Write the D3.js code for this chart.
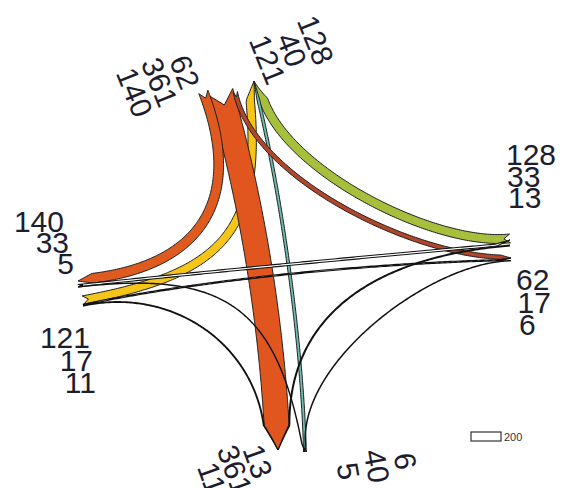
<!DOCTYPE html>
<html>
<head>
<meta charset="utf-8">
<script src="https://cdn.jsdelivr.net/npm/d3@7"></script>
<style>
	body { margin: 0; background: #ffffff; }
	svg { display: block; }
	.lbl { font-family: "Liberation Sans", Arial, sans-serif; font-size: 30px; fill: #1d1d30; }
	.legend { font-family: "Liberation Sans", Arial, sans-serif; font-size: 11px; fill: #333333; }
</style>
</head>
<body>
<svg id="flows" width="566" height="488"></svg>
<script>
'use strict'

// nodes and the three numbers printed next to each of them
var nodes = ['NW', 'N', 'W1', 'W2', 'E1', 'E2', 'S1', 'S2'];
var nodeLabels = [
	[62, 361, 140],
	[128, 40, 121],
	[140, 33, 5],
	[121, 17, 11],
	[128, 33, 13],
	[62, 17, 6],
	[13, 361, 11],
	[6, 40, 5]
];

// flows between nodes
var flowFrom  = ['NW', 'NW', 'NW', 'E1', 'W2', 'S2', 'W1', 'W2', 'W2', 'E1', 'E2', 'W1'];
var flowTo    = ['S1', 'W1', 'E2', 'N',  'N',  'N',  'E1', 'E2', 'S1', 'S1', 'S2', 'S2'];
var flowValue = [361, 140, 62, 128, 121, 40, 33, 17, 11, 13, 6, 5];

var legendValue = 200;

// ---- layout (not data) ----
var center = [270, 265];
var nodePos = {
	NW: [218, 92], N: [254, 81],
	W1: [78, 281], W2: [83, 301],
	E1: [510, 240], E2: [511, 258],
	S1: [278, 450], S2: [305, 452]
};
var nodeAxis = {
	NW: [-1, 0], N: [-1, 0], W1: [0, 1], W2: [0, 1],
	E1: [0, 1], E2: [0, 1], S1: [-1, 0], S2: [-1, 0]
};
var flowFill = ['#e1551e', '#de5a1f', '#b2462a', '#a6bf3c', '#f5c518', '#6cbfb2',
	'#ffffff', '#ffffff', '#ffffff', '#ffffff', '#ffffff', '#ffffff'];
var flowBend = [0.33, 0.53, 0.28, 0.27, 0.54, 0.3, 0.3, 0.3, 0.42, 0.45, 0.3, 0.53];
// point the curve ends lean towards, when it is not the centre
var flowPull = [null, null, null, null, null, [300, 265], null, null, null, null, null, null];
var drawOrder = [4, 3, 5, 0, 1, 2, 6, 7, 8, 9, 10, 11];

var labelPos = {
	NW: { x: 175, y: 76,  rot: 68, anchor: 'middle', step: 27, shift: 0 },
	N:  { x: 306, y: 44,  rot: 68, anchor: 'middle', step: 26, shift: 0 },
	W1: { x: 64,  y: 232, rot: 0,  anchor: 'end',    step: 21, shift: 5 },
	W2: { x: 90,  y: 348, rot: 0,  anchor: 'end',    step: 22.5, shift: 3 },
	E1: { x: 506, y: 165, rot: 0,  anchor: 'start',  step: 21.5, shift: 1 },
	E2: { x: 516, y: 290, rot: 0,  anchor: 'start',  step: 22.5, shift: 1.5 },
	S1: { x: 248, y: 465, rot: 70, anchor: 'middle', step: 24.5, shift: 0 },
	S2: { x: 395, y: 463, rot: 80, anchor: 'middle', step: 29, shift: 0 }
};

var width = d3.scaleLinear().domain([0, d3.max(flowValue)]).range([0, 25]);

function members(node){
	var list = nodeLabels[nodes.indexOf(node)];
	var m = d3.range(flowValue.length).filter(function(j){ return flowFrom[j] === node || flowTo[j] === node; });
	m.sort(function(a, b){ return list.indexOf(flowValue[a]) - list.indexOf(flowValue[b]); });
	return m;
}

function nodeTotal(node){
	return d3.sum(members(node), function(j){ return width(flowValue[j]); });
}

function offsetAt(node, i){
	var pos = -nodeTotal(node) / 2;
	for(var j of members(node)){
		if(j === i) return pos + width(flowValue[j]) / 2;
		pos += width(flowValue[j]);
	}
	return 0;
}

function toward(p, q, L){
	var dx = q[0] - p[0], dy = q[1] - p[1], d = Math.hypot(dx, dy);
	return [p[0] + dx / d * L, p[1] + dy / d * L];
}

function bez(c, t){
	var u = 1 - t;
	var a = u*u*u, b = 3*u*u*t, d = 3*u*t*t, e = t*t*t;
	return [a*c[0][0] + b*c[1][0] + d*c[2][0] + e*c[3][0],
		a*c[0][1] + b*c[1][1] + d*c[2][1] + e*c[3][1]];
}

function bandPath(i){
	var a = flowFrom[i], b = flowTo[i];
	var w = width(flowValue[i]), h = w / 2;
	var oa = offsetAt(a, i), ob = offsetAt(b, i);
	var s = [nodePos[a][0] + nodeAxis[a][0]*oa, nodePos[a][1] + nodeAxis[a][1]*oa];
	var e = [nodePos[b][0] + nodeAxis[b][0]*ob, nodePos[b][1] + nodeAxis[b][1]*ob];
	var L = flowBend[i] * Math.hypot(e[0] - s[0], e[1] - s[1]);
	var pull = flowPull[i] || center;
	var ctrl = [s, toward(s, pull, L), toward(e, pull, L), e];

	var N = 160, pts = [], len = [0];
	for(var k = 0; k <= N; k++){
		pts.push(bez(ctrl, k / N));
		if(k > 0) len.push(len[k-1] + Math.hypot(pts[k][0] - pts[k-1][0], pts[k][1] - pts[k-1][1]));
	}
	var S = len[N];
	var arrow = 6 + 0.7 * nodeTotal(b);
	var sh = [nodeAxis[b][0]*ob, nodeAxis[b][1]*ob];

	var mid = [], fs = [];
	for(k = 0; k <= N; k++){
		var f = Math.min(1, (S - len[k]) / arrow);
		fs.push(f);
		mid.push([pts[k][0] - (1 - f)*sh[0], pts[k][1] - (1 - f)*sh[1]]);
	}
	var left = [], right = [];
	for(k = 0; k <= N; k++){
		var p0 = mid[Math.max(0, k-1)], p1 = mid[Math.min(N, k+1)];
		var tx = p1[0] - p0[0], ty = p1[1] - p0[1], tl = Math.hypot(tx, ty) || 1;
		var nx = -ty / tl, ny = tx / tl;
		left.push([mid[k][0] + nx*h*fs[k], mid[k][1] + ny*h*fs[k]]);
		right.push([mid[k][0] - nx*h*fs[k], mid[k][1] - ny*h*fs[k]]);
	}
	var notch = 0.4 * w + 2, kn = 0;
	while(kn < N && len[kn] < notch) kn++;
	var poly = left.concat(right.reverse()).concat([mid[kn]]);
	return d3.line()(poly) + 'Z';
}

var svg = d3.select('#flows');

svg.append('rect').attr('width', 566).attr('height', 488).attr('fill', '#ffffff');

svg.append('g')
	.attr('class', 'bands')
	.selectAll('path')
	.data(drawOrder)
	.enter()
	.append('path')
	.attr('d', function(i){ return bandPath(i); })
	.attr('fill', function(i){ return flowFill[i]; })
	.attr('stroke', function(i){ return flowFill[i] === '#ffffff' ? '#111111' : '#1e1e1e'; })
	.attr('stroke-width', function(i){ return flowFill[i] === '#ffffff' ? 1.1 : 1; })
	.attr('stroke-linejoin', 'miter');

var labels = svg.append('g')
	.selectAll('g')
	.data(nodes)
	.enter()
	.append('g')
	.attr('transform', function(n){ var l = labelPos[n]; return `translate(${l.x}, ${l.y}) rotate(${l.rot})`; });

labels.selectAll('text')
	.data(function(n){ return nodeLabels[nodes.indexOf(n)].map(function(v, k){ return { v: v, k: k, l: labelPos[n] }; }); })
	.enter()
	.append('text')
	.attr('class', 'lbl')
	.attr('text-anchor', function(d){ return d.l.anchor; })
	.attr('x', function(d){ return d.k * d.l.shift; })
	.attr('y', function(d){ return d.k * d.l.step; })
	.text(function(d){ return d.v; });

// size legend
var legend = svg.append('g').attr('transform', 'translate(471, 432)');
legend.append('rect')
	.attr('width', 30)
	.attr('height', 9)
	.attr('fill', '#ffffff')
	.attr('stroke', '#333333')
	.attr('stroke-width', 1.2);
legend.append('text')
	.attr('class', 'legend')
	.attr('x', 33)
	.attr('y', 9)
	.text(legendValue);
</script>
</body>
</html>
